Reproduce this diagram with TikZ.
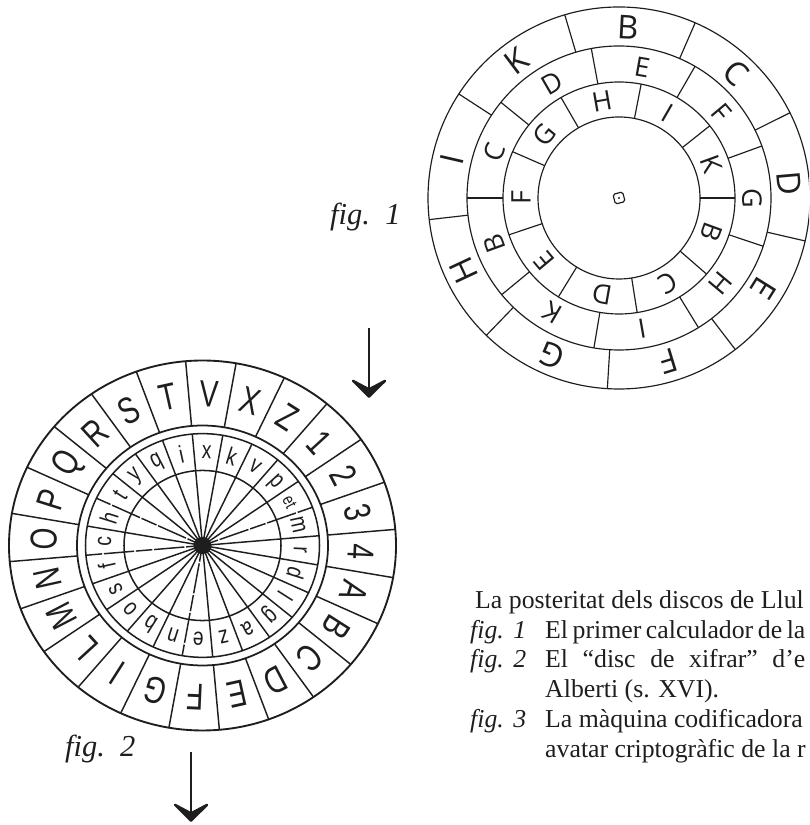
\documentclass[tikz,border=0pt]{standalone}
\usepackage{fontspec}
\usepackage{xcolor}
\usepackage{graphicx}
\usetikzlibrary{arrows.meta, positioning}
\setmainfont{Liberation Serif}
\newfontfamily\lullfont{Open Sans}
\newfontfamily\albfont{Liberation Sans}
\definecolor{inkdark}{RGB}{30,30,30}
\tikzstyle{ringline}=[draw=inkdark, line width=1pt]
\tikzstyle{albline}=[draw=inkdark, line width=1.25pt]
\tikzstyle{gapline}=[albline, dash pattern=on 14pt off 1.5pt on 26pt off 1.5pt]
\tikzstyle{lullbig}=[inner sep=0pt, text=inkdark, font=\lullfont\fontsize{28}{28}\selectfont]
\tikzstyle{lullmid}=[inner sep=0pt, text=inkdark, font=\lullfont\fontsize{23}{23}\selectfont]
\tikzstyle{albcap}=[inner sep=0pt, text=inkdark, font=\albfont\fontsize{32}{32}\selectfont]
\tikzstyle{alblow}=[inner sep=0pt, text=inkdark, font=\albfont\fontsize{21}{21}\selectfont]
\tikzstyle{figlab}=[inner sep=0pt, anchor=base west, text=inkdark, font=\itshape\fontsize{26}{26}\selectfont]
\tikzstyle{legline}=[inner sep=0pt, anchor=base west, text=inkdark, font=\fontsize{22}{22}\selectfont]
\tikzstyle{bigarr}=[-{Stealth[round, length=19pt, width=38pt, inset=10pt, line width=2pt]}, line width=2.4pt, color=inkdark]
\newcommand{\figtag}[1]{\makebox[64pt][l]{\textit{fig.\hspace{8pt}#1}}}
\newcommand{\slim}[2]{\scalebox{#1}[1]{#2}}

\begin{document}
\begin{tikzpicture}[x=0.03cm, y=0.03cm]
  \useasboundingbox (0,0) rectangle (809,825);
  \clip (0,0) rectangle (809,825);
  % fig 1
  \begin{scope}[shift={(619,627)}]
    \foreach \r in {191,152,116,81}
      \draw[ringline] (0,0) circle (\r);
    \foreach \a in {106.5,66.5,26.5,-13,-52.5,-93.5,-134,-173.5,147}
      \draw[ringline] (\a:152) -- (\a:191);
    \foreach \a in {100.5,60,20,-18.5,-58.5,-99.5,-140.5,180,141}
      \draw[ringline] (\a:116) -- (\a:152);
    \foreach \a in {79,38.5,0,-41,-81,-121.5,-161.5,156.5,120}
      \draw[ringline] (\a:81) -- (\a:116);
    \foreach \a/\l in {87/B,47/C,5/D,-32/E,-73/F,-113/G,-155/H,167/I,127/K}
      \node[lullbig, rotate={\a-90}] (outer\l) at (\a:171) {\l};
    \foreach \a/\l in {80/E,40/F,0/G,-40/H,-80/I,-120/K,-160/B,160/C,120/D}
      \node[lullmid, rotate={\a-90}] (mid\l) at (\a:133) {\l};
    \foreach \a/\l in {100/H,60/I,20/K,-20/B,-60/C,-100/D,-140/E,180/F,140/G}
      \node[lullmid, rotate={\a-90}] (core\l) at (\a:98) {\l};
    \draw[ringline, rounded corners=1.5pt, rotate=15] (-5,-5) rectangle (5,5);
    \fill[inkdark] (0,0) circle (1.2);
  \end{scope}
  % fig 2
  \begin{scope}[shift={(202.5,279.5)}, yscale=0.956]
    \foreach \r/\w in {193.5/1.6,125.5/1.5,117/1.3,78.5/1.3}
      \draw[draw=inkdark, line width=\w pt] (0,0) circle (\r);
    \foreach \a in {5,20,...,350}
      \draw[albline] (\a:125.5) -- (\a:193.5);
    \foreach \a in {5,35,50,65,80,95,110,125,140,170,200,215,230,245,275,290,305,320,335,350}
      \draw[albline] (\a:0) -- (\a:117);
    \foreach \a in {20,155,185,260}
      \draw[gapline] (\a:0) -- (\a:117);
    \fill[inkdark] (0,0) circle (9);
    \foreach \l [count=\n] in {V,X,Z,1,2,3,4,A,B,C,D,E,F,G,I,L,M,N,O,P,Q,R,S,T} {
      \pgfmathsetmacro{\a}{87.5-15*(\n-1)}
      \node[albcap, rotate={\a-90}] (cap\n) at (\a:159) {\slim{0.75}{\l}};
    }
    \foreach \l [count=\n] in {x,k,v,p,{\scalebox{0.72}{et}},m,r,d,l,g,a,z,e,n,b,o,s,f,c,h,t,y,q,i} {
      \pgfmathsetmacro{\a}{87.5-15*(\n-1)}
      \node[alblow, rotate={\a-90}] (low\n) at (\a:98) {\slim{0.78}{\l}};
    }
  \end{scope}
  % labels
  \node[figlab] (figa) at (330,600) {fig.\hspace{13pt}1};
  \node[figlab] (figb) at (65,68) {fig.\hspace{13pt}2};
  % arrows
  \coordinate (arra) at (369,497);
  \coordinate (tipa) at (369,427);
  \coordinate (arrb) at (191,73);
  \coordinate (tipb) at (191,3);
  \draw[bigarr] (arra) -- (tipa);
  \draw[bigarr] (arrb) -- (tipb);
  % legend
  \node[legline] (leg1) at (475,216) {La posteritat dels discos de Llul};
  \node[legline] (leg2) at (470,186.5) {\figtag{1}\makebox[222pt][s]{El primer calculador de la}};
  \node[legline] (leg3) at (470,157) {\figtag{2}\makebox[222pt][s]{El “disc de xifrar” d’e}};
  \node[legline] (leg4) at (545,127) {Alberti (s. XVI).};
  \node[legline] (leg5) at (470,97.5) {\figtag{3}La màquina codificadora};
  \node[legline] (leg6) at (545,67) {avatar criptogràfic de la r};
\end{tikzpicture}
\end{document}
